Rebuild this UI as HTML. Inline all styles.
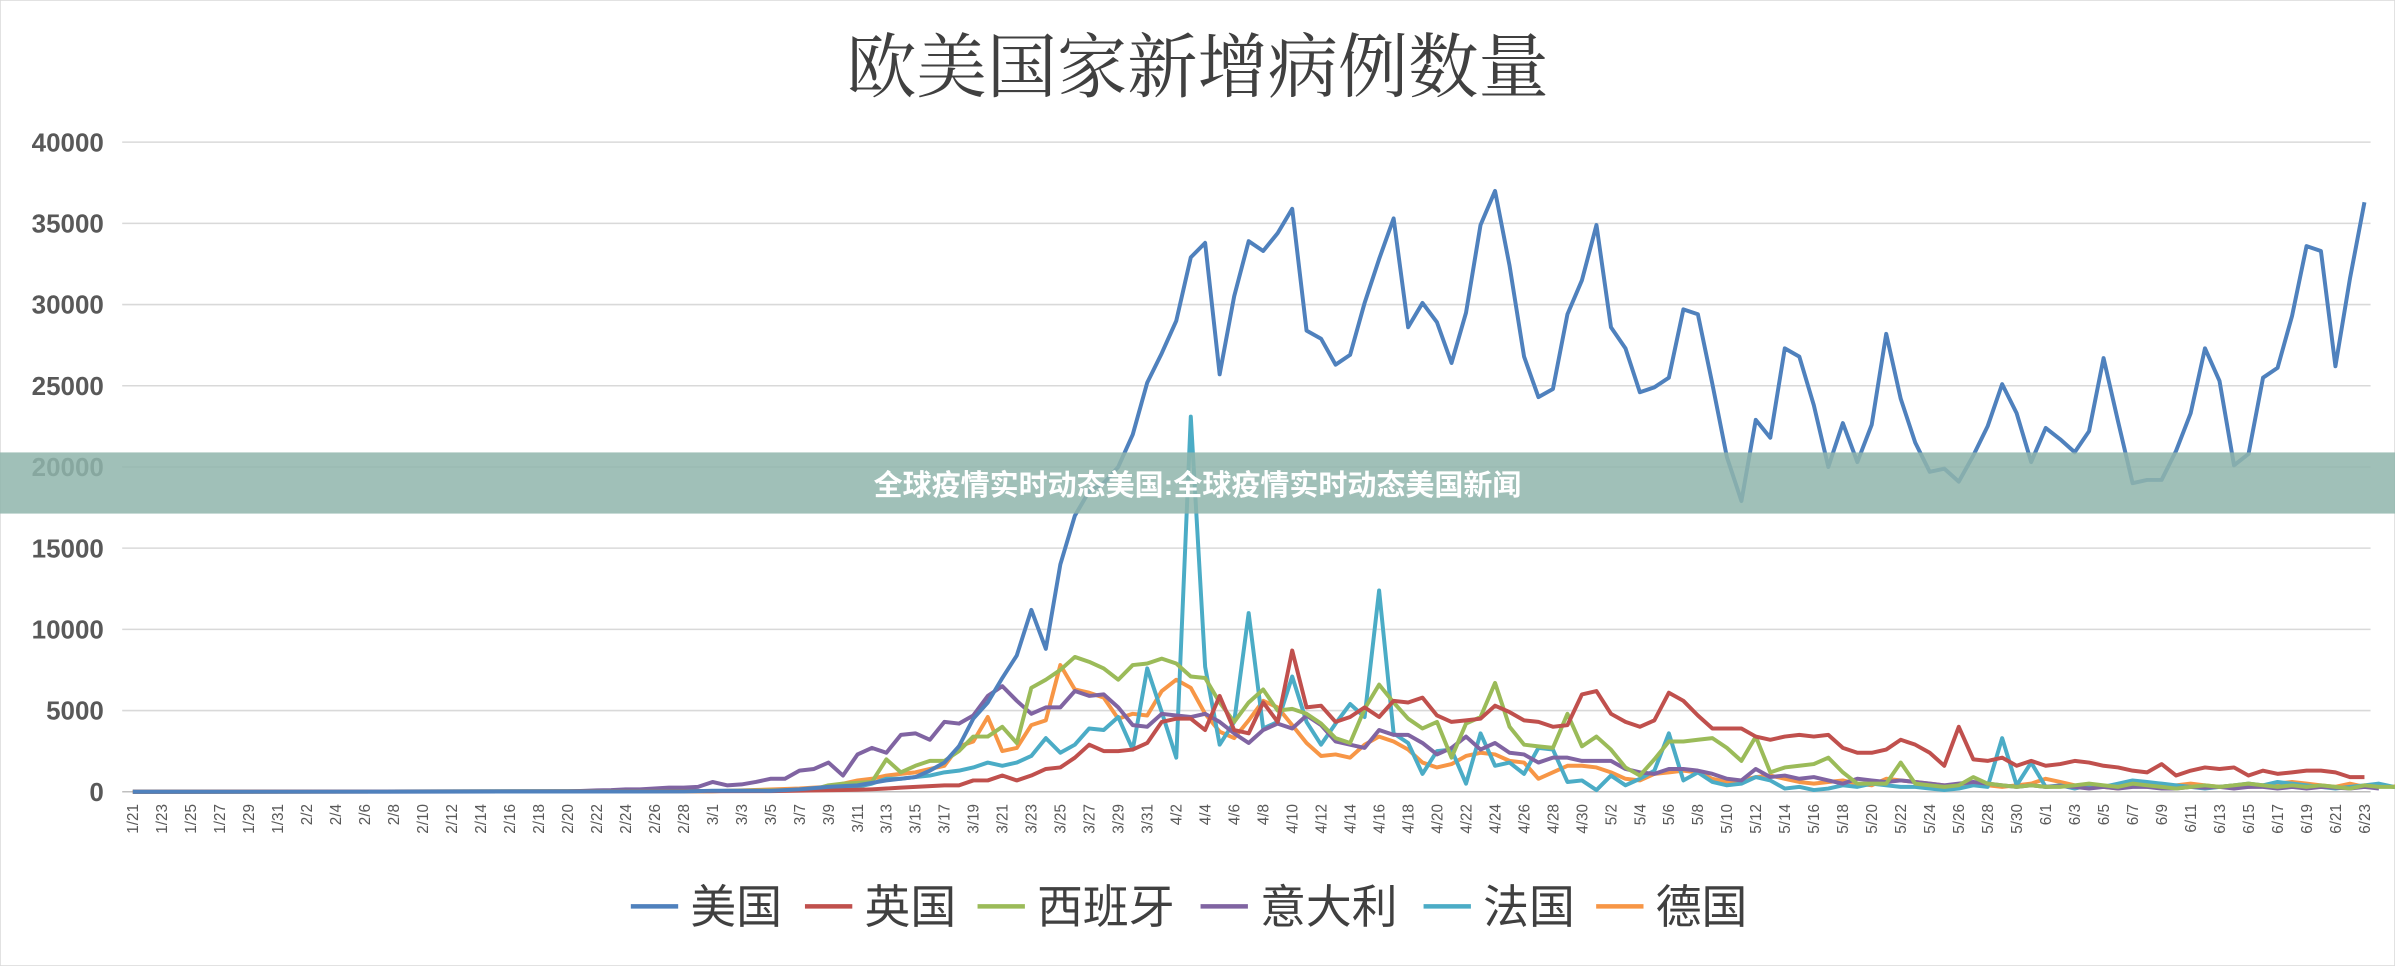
<!DOCTYPE html>
<html><head><meta charset="utf-8">
<style>
html,body{margin:0;padding:0;background:#fff;}
svg{display:block;}
text{font-family:"Liberation Sans","Noto Sans CJK SC",sans-serif;}
</style></head>
<body>
<svg id="s" width="2395" height="966" viewBox="0 0 1568 632" preserveAspectRatio="none" xmlns="http://www.w3.org/2000/svg">
<rect x="0" y="0" width="1568" height="632" fill="#fff" stroke="#d9d9d9" stroke-width="1"/>
<text x="784" y="60" text-anchor="middle" font-size="46" fill="#404040" style="font-family:'Noto Serif CJK SC','Noto Sans CJK SC',serif">欧美国家新增病例数量</text>
<g id="grid"></g>
<g id="series" fill="none" stroke-width="2.6" stroke-linejoin="round"></g>
<rect x="0" y="296" width="1568" height="40" fill="#8fb5ab" opacity="0.85"/>
<text x="784" y="324" text-anchor="middle" font-size="19" font-weight="bold" fill="#fff">全球疫情实时动态美国:全球疫情实时动态美国新闻</text>
<g id="legend" font-size="30" fill="#404040" style="font-family:'Noto Serif CJK SC','Noto Sans CJK SC',serif"></g>
</svg>
<script>
var NS="http://www.w3.org/2000/svg";
function el(t,a,p,txt){var e=document.createElementNS(NS,t);for(var k in a)e.setAttribute(k,a[k]);if(txt)e.textContent=txt;p.appendChild(e);return e;}
var X0=87,DX=(1548-87)/154,Y0=518,YS=425/40000;
function X(d){return X0+DX*d;}function Y(v){return Y0-v*YS;}
var g=document.getElementById('grid');
for(var v=0;v<=40000;v+=5000){
 el('line',{x1:80,x2:1552,y1:Y(v),y2:Y(v),stroke:v?'#d9d9d9':'#bfbfbf','stroke-width':1},g);
 el('text',{x:68,y:Y(v)+6,'text-anchor':'end','font-size':17,'font-weight':'bold',fill:'#595959'},g,String(v));
}
var months=[[1,21,31],[2,1,29],[3,1,31],[4,1,30],[5,1,31],[6,1,23]];
var labels=[];
months.forEach(function(m){for(var day=m[1];day<=m[2];day++){labels.push(m[0]+'/'+day);}});
for(var i=0;i<labels.length;i+=2){
 var x=X(i)+3.5;
 el('text',{x:0,y:0,transform:'translate('+x+',526) rotate(-90)','text-anchor':'end','font-size':10,fill:'#595959'},g,labels[i]);
}
function idx(s){return labels.indexOf(s);}
function series(color,pts){
 var p=pts.map(function(a){return X(typeof a[0]=='string'?idx(a[0]):a[0]).toFixed(1)+','+Y(a[1]).toFixed(1)}).join(' ');
 el('polyline',{points:p,stroke:color},document.getElementById('series'));
}
function seq(start,vals){var s=idx(start);return vals.map(function(v,i){return [s+i,v];});}
// Germany
series('#f79646',[[0,0],['3/1',30]].concat(seq('3/7',[200,250,300,500,700,800,1000,1100,1200,1400,1600,2800,3100,4600,2500,2700,4100,4400,7800,6300,6100,5800,4500,4800,4700,6200,6900,6400,4800,3700,3300,4400,5600,5200,4100,3000,2200,2300,2100,2900,3400,3100,2600,1800,1500,1700,2200,2400,2300,1900,1800,800,1200,1600,1600,1500,1200,800,700,1100,1200,1300,1200,800,600,700,900,1000,800,600,500,600,700,500,400,800,700,600,500,400,300,500,400,300,400,500,800,600,400,300,300,200,400,300,300,400,500,400,300,400,300,400,500,600,500,400,300,500,300,400,300,600,500,1200,600,400,700,500,400,300])));
// France
series('#4bacc6',[[0,0],['3/1',50]].concat(seq('3/7',[80,100,150,200,300,500,800,800,900,1000,1200,1300,1500,1800,1600,1800,2200,3300,2400,2900,3900,3800,4600,2600,7600,4900,2100,23100,7700,2900,4300,11000,3900,4300,7100,4300,2900,4200,5400,4600,12400,3600,3000,1100,2500,2600,500,3600,1600,1800,1100,2700,2600,600,700,100,1000,400,800,1300,3600,700,1200,600,400,500,900,700,200,300,100,200,400,300,500,400,300,300,200,100,200,400,300,3300,400,1800,300,400,200,400,300,500,700,600,500,400,300,200,300,400,500,400,600,500,400,300,200,300,400,500,300,200,400,500,800,300,400])));
// Italy
series('#8064a2',[[0,0],['2/20',20]].concat(seq('2/22',[80,100,150,150,200,250,250,300,600,400,450,600,800,800,1300,1400,1800,1000,2300,2700,2400,3500,3600,3200,4300,4200,4700,5900,6500,5600,4800,5200,5200,6200,5900,6000,5200,4100,4000,4800,4700,4600,4800,4300,3600,3000,3800,4200,3900,4700,4100,3100,2900,2700,3800,3500,3500,3000,2300,2700,3400,2600,3000,2400,2300,1800,2100,2100,1900,1900,1900,1400,1200,1100,1400,1400,1300,1100,800,700,1400,900,1000,800,900,700,500,800,700,600,700,600,500,400,500,600,500,400,300,400,300,350,300,200,300,200,300,300,200,200,300,250,300,200,300,300,200,300,200,300,250,200,300,200])));
// Spain
series('#9bbb59',[[0,0],['3/1',40]].concat(seq('3/7',[100,150,400,500,550,600,2000,1200,1600,1900,1900,2500,3400,3400,4000,3000,6400,6900,7500,8300,8000,7600,6900,7800,7900,8200,7900,7100,7000,5500,4300,5500,6300,5000,5100,4800,4200,3300,3000,5100,6600,5500,4500,3900,4300,2100,4200,4600,6700,4000,2900,2800,2700,4800,2800,3400,2600,1500,1000,2000,3100,3100,3200,3300,2700,1900,3400,1200,1500,1600,1700,2100,1200,500,500,500,1800,500,400,300,400,900,500,400,300,400,300,300,400,500,400,300,500,400,300,200,300,400,300,400,500,400,300,400,300,400,300,200,400,300,300,400,300,400,300,400])));
// UK
series('#c0504d',[[0,0],['3/5',40]].concat(seq('3/10',[100,120,150,200,250,300,350,400,400,700,700,1000,700,1000,1400,1500,2100,2900,2500,2500,2600,3000,4300,4500,4500,3800,5900,3800,3600,5500,4300,8700,5200,5300,4300,4600,5200,4600,5600,5500,5800,4700,4300,4400,4500,5300,4900,4400,4300,4000,4100,6000,6200,4800,4300,4000,4400,6100,5600,4700,3900,3900,3900,3400,3200,3400,3500,3400,3500,2700,2400,2400,2600,3200,2900,2400,1600,4000,2000,1900,2100,1600,1900,1600,1700,1900,1800,1600,1500,1300,1200,1700,1000,1300,1500,1400,1500,1000,1300,1100,1200,1300,1300,1200,900,900])));
// US
series('#4f81bd',[[0,0],['2/28',20],['3/1',70],['3/5',60],['3/7',150],['3/9',300],['3/11',400],['3/13',700],['3/15',900],['3/16',1300],['3/17',1800],['3/18',2800],['3/19',4500],['3/20',5500]].concat(seq('3/21',[7000,8400,11200,8800,14000,17000,18500,19000,20000,22000,25200,27000,29000,32900,33800,25700,30500,33900,33300,34400,35900,28400,27900,26300,26900,30100,32800,35300,28600,30100,28900,26400,29500,34900,37000,32400,26800,24300,24800,29400,31500,34900,28600,27300,24600,24900,25500,29700,29400,25100,20600,17900,22900,21800,27300,26800,23800,20000,22700,20300,22600,28200,24200,21500,19700,19900,19100,20700,22500,25100,23300,20300,22400,21700,20900,22200,26700,22800,19000,19200,19200,21000,23300,27300,25300,20100,20800,25500,26100,29300,33600,33300,26200,31600,36300])));
var lg=document.getElementById('legend');
[['#4f81bd',413,'美国'],['#c0504d',527,'英国'],['#9bbb59',640,'西班牙'],['#8064a2',786,'意大利'],['#4bacc6',932,'法国'],['#f79646',1045,'德国']].forEach(function(a){
 el('line',{x1:a[1],x2:a[1]+31,y1:593,y2:593,stroke:a[0],'stroke-width':3},lg);
 el('text',{x:a[1]+39,y:604},lg,a[2]);
});
</script>
</body></html>
